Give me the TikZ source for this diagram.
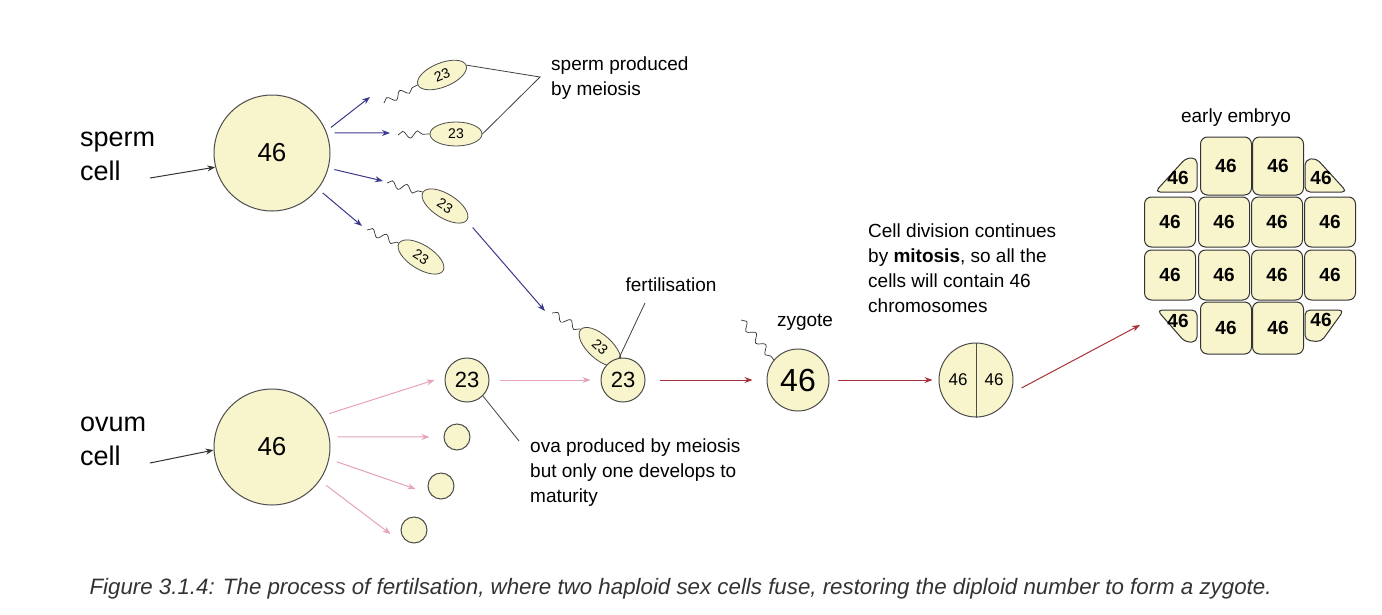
\documentclass[tikz,border=0pt]{standalone}
\usepackage{fontspec}
\setmainfont{Liberation Sans}
\usetikzlibrary{decorations.pathmorphing,arrows.meta,shapes.geometric}
\definecolor{cellf}{HTML}{F8F4CC}
\definecolor{bl}{HTML}{3C3A8C}
\definecolor{pk}{HTML}{E6A2B8}
\definecolor{dr}{HTML}{A8323A}
\tikzset{
 cell/.style={circle,draw=black!70,fill=cellf,line width=1pt,inner sep=0pt},
 sp/.style={ellipse,draw=black!70,fill=cellf,line width=0.8pt,minimum width=52pt,minimum height=24pt,inner sep=0pt,font=\fontsize{14}{14}\selectfont},
 tail/.style={black!80,line width=0.7pt,decorate,decoration={snake,segment length=15pt,amplitude=3.5pt}},
 ba/.style={bl,line width=1pt,shorten <=6pt,-{Stealth[length=8pt,width=6pt]}},
 pa/.style={pk,line width=1pt,shorten <=8pt,-{Stealth[length=8pt,width=6pt]}},
 ra/.style={dr,line width=1pt,-{Stealth[length=8pt,width=6pt]}},
 ka/.style={black!80,line width=1pt,-{Stealth[length=8pt,width=6pt]}},
 lbl/.style={font=\fontsize{19}{25}\selectfont,align=left,inner sep=0pt},
 emb/.style={draw=black!80,fill=cellf,line width=1pt,rounded corners=7pt,minimum width=51pt,minimum height=50pt,inner sep=0pt,font=\bfseries\fontsize{19}{19}\selectfont},
 corner/.style={draw=black!80,fill=cellf,line width=1pt,rounded corners=5pt},
 lead/.style={black!75,line width=0.8pt}
}
\begin{document}
\begin{tikzpicture}[x=1pt,y=-1pt]
\useasboundingbox[fill=white] (0,0) rectangle (1382,614);
% parent cells
\node[cell,minimum size=116pt,font=\fontsize{26}{26}\selectfont] (sc) at (272,153) {46};
\node[cell,minimum size=116pt,font=\fontsize{26}{26}\selectfont] (oc) at (272,447) {46};
\node[lbl,font=\fontsize{27}{34}\selectfont,anchor=north west] (sl) at (80,132) {sperm\\cell};
\node[lbl,font=\fontsize{27}{34}\selectfont,anchor=north west] (ol) at (80,417) {ovum\\cell};
\coordinate (sa) at (150,178); \coordinate (oa) at (150,463);
\draw[ka] (sa) -- (sc.194);
\draw[ka] (oa) -- (oc.183);
% sperm
\node[sp,rotate=22] (s1) at (442,75) {23};
\node[sp] (s2) at (456,134) {23};
\node[sp,rotate=-32] (s3) at (445,206) {23};
\node[sp,rotate=-32] (s4) at (421,257) {23};
\node[sp,rotate=-42] (s5) at (600,347) {23};
\coordinate (t1) at (384,103); \coordinate (t2) at (398,135);
\coordinate (t3) at (387,183); \coordinate (t4) at (367,230); \coordinate (t5) at (552,313);
\draw[tail] (t1) -- (s1.west);
\draw[tail] (t2) -- (s2.west);
\draw[tail] (t3) -- (s3.west);
\draw[tail] (t4) -- (s4.west);
\draw[tail] (t5) -- (s5.west);
\coordinate (b1) at (370,97); \coordinate (b2) at (390,133); \coordinate (b3) at (383,181); \coordinate (b4) at (362,226);
\draw[ba] (sc.22) -- (b1);
\draw[ba] (sc.15) ++(0,-5) -- (b2);
\draw[ba] (sc.-15) -- (b3);
\draw[ba] (sc.-38) -- (b4);
\coordinate (b5) at (545,311);
\draw[ba,shorten <=2pt] (s3.east) ++(4,6) -- (b5);
\node[lbl,anchor=north west] (spl) at (551,57) {sperm produced\\by meiosis};
\coordinate (j) at (540,77);
\draw[lead] (s1.east) -- (j) -- (s2.east);
% ova
\node[cell,minimum size=44pt,font=\fontsize{22}{22}\selectfont] (o1) at (467,380) {23};
\node[cell,minimum size=26pt] (o2) at (457,437) {};
\node[cell,minimum size=26pt] (o3) at (441,486) {};
\node[cell,minimum size=26pt] (o4) at (414,530) {};
\draw[pa] (oc.32) -- ([xshift=-10pt]o1.west);
\draw[pa] (oc.10) -- ([xshift=-14pt]o2.west);
\draw[pa] (oc.-12) -- ([xshift=-12pt,yshift=-3pt]o3.west);
\draw[pa] (oc.-35) -- ([xshift=-10pt,yshift=-4pt]o4.west);
\node[lbl,anchor=north west] (ovl) at (530,439) {ova produced by meiosis\\but only one develops to\\maturity};
\coordinate (oj) at (519,441);
\draw[lead] (o1.-45) -- (oj);
% fertilisation
\node[cell,minimum size=44pt,font=\fontsize{22}{22}\selectfont] (f) at (623,380) {23};
\draw[pa,shorten <=0pt] ([xshift=10pt]o1.east) -- ([xshift=-10pt]f.west);
\node[lbl,anchor=south] (fl) at (671,292) {fertilisation};
\draw[lead] (645,303) -- (f.100);
% zygote
\node[cell,minimum size=62pt,font=\fontsize{32}{32}\selectfont] (z) at (798,380) {46};
\node[lbl,anchor=south] (zl) at (805,331) {zygote};
\coordinate (zt) at (741,320);
\draw[tail] (zt) -- (z.140);
\draw[ra] ([xshift=14pt]f.east) -- ([xshift=-14pt]z.west);
% two cell
\node[cell,minimum size=74pt] (tc) at (976,380) {};
\draw[black!70,line width=1pt] (tc.north) -- (tc.south);
\node[font=\fontsize{17}{17}\selectfont] (l46) at (958,380) {46};
\node[font=\fontsize{17}{17}\selectfont] (r46) at (994,380) {46};
\draw[ra] ([xshift=8pt]z.east) -- ([xshift=-6pt]tc.west);
\node[lbl,anchor=north west] (cdl) at (868,224) {Cell division continues\\by \textbf{mitosis}, so all the\\cells will contain 46\\chromosomes};
% embryo
\node[lbl,anchor=south] (el) at (1236,127) {early embryo};
\coordinate (ea) at (1140,325);
\draw[ra] ([xshift=8pt,yshift=-8pt]tc.east) -- (ea);
\foreach \x/\c in {1226/a,1278/b}{\node[emb,minimum height=58pt] (t\c) at (\x,166) {46};}
\foreach \y/\r in {222/b,275/c}{
 \foreach \x/\c in {1170/a,1224/b,1277/c,1330/d}{\node[emb] (e\r\c) at (\x,\y) {46};}}
\foreach \x/\c in {1226/a,1278/b}{\node[emb,minimum height=52pt] (u\c) at (\x,328) {46};}
\draw[corner] (1155,192) -- (1197,192) -- (1197,158) -- (1186,158) -- cycle;
\draw[corner] (1305,192) -- (1347,192) -- (1316,158) -- (1305,160) -- cycle;
\draw[corner] (1157,310) -- (1197,310) -- (1197,342) -- (1185,342) -- cycle;
\draw[corner] (1305,310) -- (1344,310) -- (1321,342) -- (1305,340) -- cycle;
\node[font=\bfseries\fontsize{19}{19}\selectfont] (c1) at (1178,178) {46};
\node[font=\bfseries\fontsize{19}{19}\selectfont] (c2) at (1321,178) {46};
\node[font=\bfseries\fontsize{19}{19}\selectfont] (c3) at (1178,321) {46};
\node[font=\bfseries\fontsize{19}{19}\selectfont] (c4) at (1321,320) {46};
% caption
\node[anchor=west,font=\itshape\fontsize{22.3}{22}\selectfont,text=black!80] (cap) at (86,589) {Figure 3.1.4: The process of fertilsation, where two haploid sex cells fuse, restoring the diploid number to form a zygote.};
\end{tikzpicture}
\end{document}
